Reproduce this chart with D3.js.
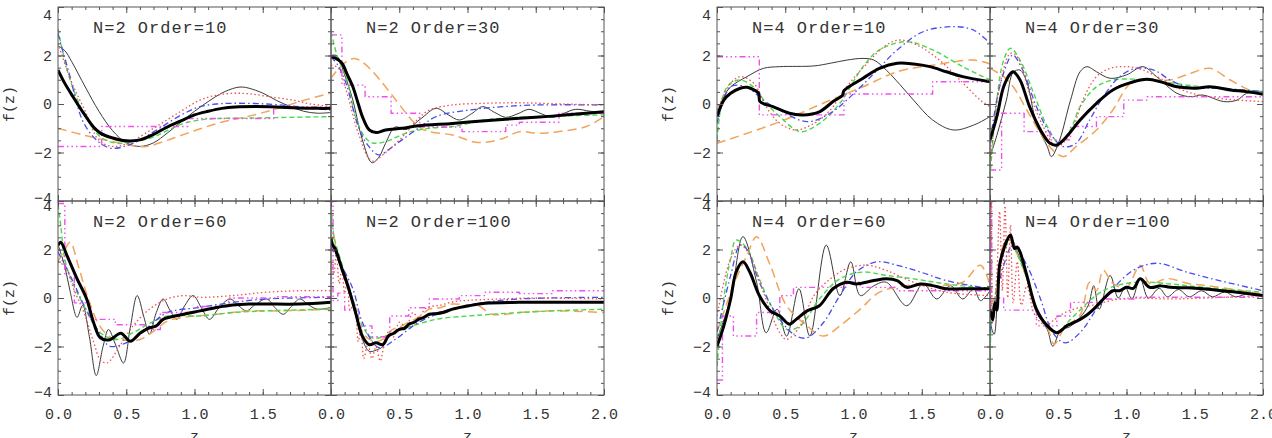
<!DOCTYPE html>
<html>
<head>
<meta charset="utf-8">
<script src="https://cdn.jsdelivr.net/npm/d3@7"></script>
<style>
body { margin: 0; background: #fff; }
svg text { font-family: "Liberation Mono", "DejaVu Sans Mono", monospace; fill: #333; }
</style>
</head>
<body>
<svg id="chart" width="1272" height="438"></svg>
<script>
// ---- N=2 Order=10
const n2o10Thick = [[0,1.4],[0.05,0.85],[0.11,0.3],[0.19,-0.4],[0.26,-0.95],[0.31,-1.2],[0.4,-1.4],[0.5,-1.52],[0.6,-1.48],[0.7,-1.25],[0.8,-0.95],[0.9,-0.7],[1.0,-0.45],[1.1,-0.3],[1.2,-0.18],[1.3,-0.12],[1.45,-0.1],[1.6,-0.12],[1.75,-0.16],[1.9,-0.18],[2.0,-0.18]];
const n2o10Thin = [[0,2.4],[0.05,2.2],[0.1,1.75],[0.2,0.7],[0.3,-0.3],[0.4,-1.1],[0.5,-1.6],[0.6,-1.75],[0.7,-1.6],[0.8,-1.2],[0.9,-0.75],[1.0,-0.3],[1.1,0.1],[1.2,0.45],[1.3,0.67],[1.35,0.7],[1.4,0.65],[1.5,0.45],[1.6,0.15],[1.7,-0.1],[1.8,-0.3],[1.9,-0.38],[2.0,-0.35]];
const n2o10Orange = [[0,-1.0],[0.2,-1.3],[0.4,-1.55],[0.55,-1.72],[0.65,-1.75],[0.8,-1.5],[1.0,-1.1],[1.2,-0.75],[1.4,-0.5],[1.6,-0.2],[1.8,0.15],[2.0,0.45]];
const n2o10Green = [[0,3.1],[0.06,1.54],[0.12,0.5],[0.19,-0.38],[0.31,-1.35],[0.43,-1.62],[0.55,-1.55],[0.67,-1.42],[0.8,-1.1],[0.92,-0.8],[1.05,-0.65],[1.16,-0.6],[1.4,-0.58],[1.7,-0.55],[2.0,-0.52]];
const n2o10Blue = [[0,2.9],[0.08,1.3],[0.19,-0.8],[0.31,-1.62],[0.4,-1.83],[0.55,-1.62],[0.7,-1.15],[0.8,-0.8],[0.92,-0.4],[1.04,-0.11],[1.16,0.0],[1.28,0.03],[1.53,0.0],[1.77,-0.11],[2.0,-0.25]];
const n2o10Red = [[0,2.5],[0.1,0.9],[0.2,-0.3],[0.3,-1.5],[0.4,-1.75],[0.5,-1.65],[0.7,-1.0],[0.9,-0.3],[1.04,0.16],[1.15,0.35],[1.28,0.44],[1.4,0.42],[1.55,0.3],[1.72,0.16],[1.85,0.0],[2.0,-0.1]];
const n2o10Magenta = [[0,-1.75],[0.32,-0.93],[0.95,-0.6],[1.58,-0.12],[2.0,-0.12]];

// ---- N=2 Order=30
const n2o30Thick = [[0,1.95],[0.03,1.9],[0.08,1.68],[0.12,1.2],[0.16,0.71],[0.2,0.0],[0.23,-0.52],[0.28,-1.07],[0.33,-1.18],[0.4,-1.07],[0.52,-1.0],[0.64,-0.9],[0.89,-0.8],[1.13,-0.69],[1.38,-0.59],[1.62,-0.5],[1.87,-0.38],[2.0,-0.32]];
const n2o30Thin = [[0,2.0],[0.04,2.0],[0.1,1.2],[0.16,0.16],[0.23,-1.48],[0.3,-2.42],[0.35,-2.2],[0.4,-1.62],[0.47,-0.95],[0.55,-1.05],[0.66,-0.6],[0.77,-0.18],[0.86,-0.45],[0.94,-0.66],[1.03,-0.4],[1.11,-0.11],[1.2,-0.35],[1.28,-0.55],[1.37,-0.4],[1.45,-0.22],[1.54,-0.4],[1.62,-0.55],[1.7,-0.4],[1.79,-0.22],[1.9,-0.3],[2.0,-0.36]];
const n2o30Orange = [[0,1.06],[0.17,1.88],[0.64,-0.93],[0.72,-1.14],[0.89,-1.28],[1.08,-1.59],[1.26,-1.42],[1.38,-1.14],[1.52,-1.21],[1.65,-1.15],[1.87,-0.93],[2.0,-0.52]];
const n2o30Green = [[0,2.98],[0.05,1.9],[0.11,1.13],[0.18,-0.52],[0.24,-1.3],[0.3,-1.6],[0.4,-1.55],[0.55,-1.2],[0.72,-1.0],[0.89,-0.93],[1.13,-0.66],[1.38,-0.55],[1.62,-0.5],[2.0,-0.45]];
const n2o30Blue = [[0,1.95],[0.05,1.6],[0.11,0.85],[0.2,-0.93],[0.27,-1.7],[0.35,-2.1],[0.43,-1.85],[0.52,-1.48],[0.64,-1.0],[0.77,-0.52],[1.01,-0.25],[1.26,-0.11],[1.5,-0.04],[2.0,-0.04]];
const n2o30Red = [[0,1.6],[0.05,1.5],[0.12,0.4],[0.2,-1.2],[0.3,-2.35],[0.4,-2.0],[0.55,-1.2],[0.64,-0.6],[0.72,-0.25],[0.89,-0.04],[1.13,0.03],[1.38,0.05],[1.7,0.0],[2.0,-0.04]];
const n2o30Magenta = [[0,2.85],[0.08,0.78],[0.25,0.3],[0.44,-0.38],[0.65,-0.95],[0.96,-1.14],[1.28,-0.87],[1.38,-0.75],[1.67,-0.38],[2.0,-0.38]];

// ---- N=2 Order=60
const n2o60Thick = [[0,2.18],[0.02,2.3],[0.065,1.76],[0.14,0.79],[0.21,-0.04],[0.26,-1.0],[0.31,-1.64],[0.38,-1.72],[0.46,-1.45],[0.53,-1.78],[0.6,-1.45],[0.66,-1.25],[0.72,-1.15],[0.77,-0.88],[0.92,-0.67],[1.04,-0.53],[1.16,-0.39],[1.28,-0.29],[1.4,-0.25],[1.53,-0.25],[1.77,-0.25],[2.0,-0.18]];
const n2o60Thin = [[0,2.2],[0.05,1.3],[0.09,0.24],[0.14,-0.8],[0.18,-0.3],[0.23,-1.6],[0.28,-3.2],[0.33,-2.0],[0.37,-1.3],[0.42,-1.9],[0.48,-2.68],[0.53,-1.2],[0.58,0.1],[0.63,-0.8],[0.67,-1.5],[0.72,-0.6],[0.77,-0.04],[0.82,-0.5],[0.87,-0.88],[0.93,-0.3],[0.99,0.1],[1.05,-0.4],[1.11,-0.88],[1.18,-0.4],[1.26,-0.04],[1.32,-0.3],[1.38,-0.53],[1.45,-0.25],[1.53,-0.04],[1.59,-0.4],[1.65,-0.67],[1.71,-0.35],[1.77,-0.04],[1.84,-0.3],[1.9,-0.46],[2.0,-0.39]];
const n2o60Orange = [[0,1.5],[0.05,2.0],[0.09,2.3],[0.15,1.3],[0.22,0.0],[0.3,-1.1],[0.38,-1.6],[0.5,-1.75],[0.6,-1.71],[0.72,-1.29],[0.8,-0.95],[0.92,-0.8],[1.16,-0.67],[1.41,-0.53],[1.65,-0.53],[2.0,-0.46]];
const n2o60Green = [[0,3.85],[0.02,3.0],[0.06,1.35],[0.19,-0.32],[0.31,-1.43],[0.43,-1.71],[0.55,-1.43],[0.67,-1.05],[0.8,-0.74],[1.04,-0.74],[1.28,-0.6],[1.53,-0.53],[2.0,-0.46]];
const n2o60Blue = [[0,1.9],[0.1,0.8],[0.19,-0.3],[0.31,-1.5],[0.38,-1.99],[0.55,-1.71],[0.67,-1.15],[0.8,-0.6],[1.04,-0.39],[1.28,-0.18],[1.53,-0.04],[2.0,0.03]];
const n2o60Red = [[0,1.5],[0.05,1.3],[0.12,0.3],[0.19,-0.6],[0.26,-1.8],[0.31,-2.54],[0.36,-2.68],[0.45,-2.0],[0.55,-1.15],[0.67,-0.46],[0.8,-0.04],[0.92,0.1],[1.04,0.03],[1.28,0.1],[1.53,0.24],[1.77,0.3],[2.0,0.3]];
const n2o60Magenta = [[0,3.9],[0.05,1.0],[0.12,-0.2],[0.23,-0.88],[0.42,-1.1],[0.65,-1.3],[0.75,-0.6],[1.0,-0.35],[1.25,0.0],[1.6,0.05],[2.0,0.05]];

// ---- N=2 Order=100
const n2o100Thick = [[0,2.46],[0.01,2.2],[0.03,2.04],[0.08,1.21],[0.13,0.38],[0.18,-0.6],[0.23,-1.57],[0.28,-1.92],[0.33,-1.85],[0.38,-1.92],[0.42,-1.57],[0.46,-1.45],[0.5,-1.29],[0.54,-1.25],[0.57,-1.08],[0.61,-1.0],[0.64,-0.88],[0.68,-0.8],[0.72,-0.67],[0.77,-0.65],[0.82,-0.6],[0.89,-0.46],[1.01,-0.32],[1.13,-0.22],[1.38,-0.18],[2.0,-0.18]];
const n2o100Thin = [[0,2.3],[0.03,1.9],[0.08,1.1],[0.13,0.3],[0.18,-0.7],[0.23,-1.7],[0.28,-2.2],[0.33,-2.15],[0.38,-2.0],[0.42,-1.6],[0.5,-1.3],[0.57,-1.1],[0.64,-0.9],[0.72,-0.7],[0.82,-0.55],[0.89,-0.45],[1.01,-0.3],[1.13,-0.2],[1.38,-0.15],[2.0,-0.15]];
const n2o100Orange = [[0,1.8],[0.02,2.6],[0.04,1.8],[0.08,1.3],[0.13,0.5],[0.18,-0.5],[0.23,-1.4],[0.28,-1.7],[0.33,-1.8],[0.38,-1.7],[0.45,-1.3],[0.5,-1.2],[0.57,-1.0],[0.64,-0.8],[0.72,-0.46],[0.8,-0.4],[0.89,-0.25],[1.0,-0.3],[1.08,-0.32],[1.18,-0.67],[1.38,-0.6],[1.62,-0.53],[2.0,-0.6]];
const n2o100Green = [[0,4.1],[0.02,2.6],[0.08,1.4],[0.16,-0.04],[0.23,-1.15],[0.3,-1.64],[0.4,-1.57],[0.52,-1.29],[0.77,-0.88],[1.01,-0.74],[1.18,-0.67],[1.38,-0.6],[1.62,-0.53],[2.0,-0.46]];
const n2o100Blue = [[0,2.1],[0.05,1.6],[0.16,0.38],[0.23,-1.0],[0.35,-2.05],[0.47,-1.71],[0.64,-1.01],[0.89,-0.46],[1.13,-0.18],[1.38,-0.04],[2.0,0.03]];
const n2o100Red = [[0,1.6],[0.02,1.0],[0.04,1.8],[0.06,0.6],[0.08,1.2],[0.1,0.2],[0.12,0.8],[0.14,-0.5],[0.17,-0.2],[0.2,-1.8],[0.22,-1.2],[0.24,-2.5],[0.27,-1.9],[0.3,-2.5],[0.33,-2.0],[0.36,-2.6],[0.39,-1.9],[0.42,-1.4],[0.46,-1.6],[0.5,-1.0],[0.55,-1.2],[0.6,-0.6],[0.64,-0.8],[0.7,-0.4],[0.8,-0.3],[0.9,-0.15],[1.0,-0.1],[1.2,-0.05],[1.5,0.0],[2.0,-0.04]];
const n2o100Magenta = [[0,4.1],[0.015,-0.1],[0.05,0.2],[0.1,-0.5],[0.2,-1.15],[0.3,-1.6],[0.43,-0.74],[0.57,-0.4],[0.72,-0.04],[0.94,0.1],[1.13,0.24],[1.38,0.18],[1.62,0.3],[2.0,0.3]];

// ---- N=4 Order=10
const n4o10Thick = [[0,-0.52],[0.05,0.16],[0.1,0.44],[0.17,0.65],[0.22,0.69],[0.27,0.58],[0.305,0.44],[0.315,0.1],[0.41,-0.11],[0.53,-0.38],[0.63,-0.45],[0.75,-0.32],[0.85,0.1],[0.92,0.37],[0.93,0.55],[1.07,1.06],[1.19,1.47],[1.32,1.68],[1.44,1.65],[1.56,1.54],[1.68,1.33],[1.8,1.13],[2.0,0.92]];
const n4o10Thin = [[0,-0.5],[0.05,0.3],[0.1,0.71],[0.22,1.13],[0.34,1.47],[0.46,1.54],[0.71,1.57],[0.83,1.68],[0.95,1.81],[1.07,1.88],[1.15,1.81],[1.24,1.4],[1.34,0.8],[1.44,0.16],[1.58,-0.66],[1.73,-1.07],[1.88,-0.87],[2.0,-0.52]];
const n4o10Orange = [[0,-1.62],[0.46,-0.73],[0.83,0.16],[1.07,0.71],[1.32,1.33],[1.58,1.6],[1.88,1.81],[2.0,1.65]];
const n4o10Green = [[0,-1.48],[0.05,0.44],[0.1,0.85],[0.17,0.99],[0.27,0.69],[0.36,0.03],[0.46,-0.52],[0.61,-1.14],[0.75,-0.8],[0.9,0.03],[1.07,1.54],[1.19,2.23],[1.39,2.57],[1.58,2.23],[1.8,1.54],[2.0,0.99]];
const n4o10Blue = [[0,-0.8],[0.1,0.71],[0.22,0.69],[0.34,0.16],[0.46,-0.25],[0.66,-0.73],[0.83,-0.38],[0.95,0.16],[1.15,1.26],[1.32,2.23],[1.51,2.98],[1.73,3.19],[1.88,3.05],[2.0,2.5]];
const n4o10Red = [[0,-0.25],[0.1,0.85],[0.17,1.13],[0.27,0.85],[0.36,-0.11],[0.46,-0.8],[0.58,-1.07],[0.71,-0.8],[0.83,-0.25],[0.95,0.71],[1.1,1.68],[1.24,2.43],[1.34,2.64],[1.49,2.36],[1.63,1.81],[1.78,0.99],[1.93,0.16],[2.0,-0.11]];
const n4o10Magenta = [[0,1.95],[0.31,-0.45],[0.93,0.41],[1.58,0.92],[2.0,0.92]];

// ---- N=4 Order=30
const n4o30Thick = [[0,-1.48],[0.05,-0.52],[0.1,0.71],[0.15,1.26],[0.17,1.33],[0.22,0.99],[0.29,-0.11],[0.37,-1.07],[0.44,-1.62],[0.49,-1.69],[0.56,-1.35],[0.66,-0.66],[0.78,0.03],[0.9,0.58],[1.03,0.88],[1.15,1.02],[1.27,0.88],[1.37,0.71],[1.51,0.65],[1.61,0.71],[1.76,0.58],[1.88,0.51],[2.0,0.4]];
const n4o30Thin = [[0,-2.17],[0.05,-1.3],[0.12,0.16],[0.17,1.3],[0.22,1.4],[0.27,0.9],[0.34,-0.8],[0.42,-1.76],[0.45,-2.17],[0.51,-1.48],[0.59,0.16],[0.66,1.33],[0.71,1.54],[0.78,1.33],[0.88,1.06],[1.0,1.2],[1.12,1.54],[1.22,1.13],[1.37,0.44],[1.47,0.3],[1.56,0.37],[1.71,0.1],[1.81,0.16],[1.88,0.44],[2.0,0.44]];
const n4o30Orange = [[0,1.47],[0.1,1.13],[0.17,0.71],[0.27,-0.25],[0.37,-1.21],[0.46,-1.9],[0.54,-2.17],[0.63,-1.76],[0.78,-1.07],[0.9,-0.25],[1.03,0.85],[1.17,0.99],[1.32,0.99],[1.44,1.2],[1.61,1.47],[1.76,0.99],[1.9,0.58],[2.0,0.51]];
const n4o30Green = [[0,-3.0],[0.05,0.16],[0.1,1.81],[0.15,2.3],[0.22,1.81],[0.32,0.44],[0.42,-0.93],[0.51,-1.62],[0.59,-1.07],[0.66,-0.11],[0.78,0.71],[0.9,0.99],[1.07,1.02],[1.27,0.92],[1.44,0.78],[1.68,0.65],[2.0,0.51]];
const n4o30Blue = [[0,-1.62],[0.07,0.71],[0.15,1.95],[0.17,2.02],[0.24,1.4],[0.34,-0.11],[0.44,-1.21],[0.54,-1.76],[0.63,-1.62],[0.73,-0.66],[0.83,0.3],[0.95,1.13],[1.07,1.47],[1.2,1.4],[1.32,0.99],[1.44,0.71],[1.68,0.65],[2.0,0.51]];
const n4o30Red = [[0,-2.58],[0.07,0.71],[0.15,2.09],[0.2,1.95],[0.29,0.44],[0.39,-0.93],[0.49,-1.76],[0.59,-1.21],[0.68,0.16],[0.78,1.13],[0.88,1.47],[1.0,1.54],[1.12,1.4],[1.27,0.99],[1.44,0.51],[1.68,0.23],[2.0,0.1]];
const n4o30Magenta = [[0,-2.72],[0.085,-0.38],[0.25,-1.14],[0.44,-1.48],[0.59,-0.93],[0.78,-0.52],[0.98,0.16],[1.15,0.3],[2.0,0.3]];

// ---- N=4 Order=60
const n4o60Thick = [[0,-1.99],[0.05,-1.15],[0.1,-0.04],[0.14,1.07],[0.19,1.49],[0.24,1.07],[0.31,0.1],[0.39,-0.53],[0.46,-0.74],[0.53,-1.08],[0.58,-0.88],[0.66,-0.53],[0.75,-0.32],[0.85,0.38],[0.95,0.65],[1.02,0.58],[1.15,0.72],[1.24,0.79],[1.32,0.72],[1.39,0.44],[1.49,0.58],[1.58,0.51],[1.68,0.38],[1.8,0.38],[2.0,0.38]];
const n4o60Thin = [[0,-1.7],[0.1,0.0],[0.19,2.53],[0.29,0.65],[0.36,-1.43],[0.44,-0.46],[0.51,-1.57],[0.6,0.38],[0.68,-1.57],[0.8,2.18],[0.9,0.1],[0.98,1.49],[1.05,0.1],[1.15,0.51],[1.24,0.65],[1.39,-0.32],[1.51,0.58],[1.61,-0.04],[1.71,0.51],[1.8,-0.04],[1.88,0.38],[1.93,-0.11],[2.0,0.3]];
const n4o60Orange = [[0,-1.4],[0.14,0.8],[0.22,1.76],[0.29,2.53],[0.39,1.35],[0.51,-0.32],[0.66,-1.15],[0.78,-1.57],[0.9,-1.15],[1.05,-0.46],[1.19,0.24],[1.39,0.51],[1.63,0.51],[1.8,0.65],[1.93,1.35],[2.0,0.51]];
const n4o60Green = [[0,-2.8],[0.05,0.0],[0.1,1.63],[0.14,2.39],[0.22,2.04],[0.31,0.79],[0.41,-0.46],[0.51,-1.29],[0.61,-1.15],[0.75,-0.04],[0.9,0.79],[1.07,1.07],[1.24,0.93],[1.44,0.79],[1.68,0.58],[2.0,0.38]];
const n4o60Blue = [[0,-1.4],[0.1,0.93],[0.17,2.18],[0.22,2.0],[0.31,0.65],[0.46,-0.88],[0.58,-1.57],[0.66,-1.64],[0.78,-1.01],[0.9,0.1],[1.02,1.07],[1.17,1.49],[1.32,1.35],[1.49,1.07],[1.68,0.72],[2.0,0.38]];
const n4o60Red = [[0,-0.74],[0.1,1.63],[0.17,2.18],[0.24,1.76],[0.34,0.24],[0.46,-1.43],[0.51,-1.71],[0.61,-1.15],[0.71,0.1],[0.83,0.79],[0.95,1.21],[1.1,1.35],[1.24,1.14],[1.44,0.65],[1.68,0.24],[2.0,0.1]];
const n4o60Magenta = [[0,-3.38],[0.04,-0.74],[0.12,-1.57],[0.29,-0.6],[0.46,0.1],[0.56,0.44],[0.95,0.65],[1.05,0.44],[1.32,0.3],[2.0,0.3]];

// ---- N=4 Order=100
const n4o100Thick = [[0,-0.46],[0.02,-0.9],[0.035,-0.2],[0.05,-0.5],[0.07,1.35],[0.1,2.0],[0.12,2.32],[0.15,2.6],[0.18,2.04],[0.2,2.1],[0.22,1.9],[0.27,0.93],[0.34,-0.46],[0.42,-1.15],[0.49,-1.43],[0.53,-1.3],[0.56,-1.15],[0.6,-1.05],[0.66,-0.88],[0.71,-0.7],[0.76,-0.46],[0.83,-0.04],[0.9,0.3],[0.95,0.3],[1.0,0.44],[1.05,0.4],[1.1,0.79],[1.17,0.44],[1.25,0.5],[1.32,0.44],[1.45,0.42],[1.56,0.38],[1.7,0.3],[1.81,0.24],[2.0,0.1]];
const n4o100Thin = [[0,-1.0],[0.03,-1.5],[0.06,0.5],[0.1,2.2],[0.15,2.5],[0.2,1.9],[0.27,0.8],[0.34,-0.6],[0.42,-1.3],[0.46,-1.99],[0.52,-1.3],[0.58,-1.2],[0.66,-0.8],[0.72,-0.3],[0.76,0.51],[0.8,-0.46],[0.88,0.93],[0.94,0.0],[0.99,0.44],[1.04,-0.04],[1.1,0.79],[1.16,0.0],[1.24,0.4],[1.3,0.05],[1.38,0.35],[1.46,0.05],[1.55,0.3],[1.63,0.05],[1.72,0.25],[1.8,0.05],[1.9,0.2],[2.0,0.1]];
const n4o100Orange = [[0,-0.3],[0.05,0.2],[0.1,2.2],[0.15,2.4],[0.2,1.8],[0.27,0.8],[0.34,-0.5],[0.42,-1.2],[0.47,-1.9],[0.55,-1.2],[0.66,-0.7],[0.73,0.65],[0.78,0.3],[0.83,1.14],[0.9,0.6],[1.0,0.44],[1.1,1.35],[1.17,0.6],[1.3,0.8],[1.45,0.6],[1.6,0.5],[2.0,0.17]];
const n4o100Green = [[0,-3.8],[0.01,-1.0],[0.05,0.5],[0.1,2.0],[0.15,2.3],[0.2,1.8],[0.27,0.8],[0.34,-0.5],[0.42,-1.2],[0.49,-1.43],[0.59,-0.88],[0.83,0.3],[1.07,0.65],[1.32,0.58],[1.56,0.44],[2.0,0.24]];
const n4o100Blue = [[0,-1.4],[0.1,1.35],[0.17,2.18],[0.27,1.35],[0.37,-0.04],[0.46,-1.43],[0.55,-1.85],[0.66,-1.43],[0.78,-0.46],[0.9,0.38],[1.03,1.07],[1.15,1.38],[1.25,1.42],[1.44,1.07],[1.68,0.72],[2.0,0.3]];
const n4o100Red = [[0,-0.5],[0.01,4.1],[0.02,-1.0],[0.05,1.0],[0.07,3.57],[0.09,0.3],[0.11,3.8],[0.13,0.0],[0.15,3.0],[0.17,-0.2],[0.2,1.5],[0.23,-0.3],[0.27,0.5],[0.32,-0.6],[0.37,-1.0],[0.42,-1.1],[0.47,-0.9],[0.55,-0.6],[0.65,-0.4],[0.75,-0.3],[0.83,-0.18],[0.95,-0.04],[1.07,0.0],[1.32,-0.04],[2.0,0.1]];
const n4o100Magenta = [[0,4.1],[0.012,-0.46],[0.05,0.0],[0.1,-0.5],[0.34,-1.15],[0.49,-0.74],[0.59,-0.18],[0.83,-0.04],[1.07,0.03],[2.0,0.03]];

// axis ticks
const xMajor = [0, 0.5, 1.0, 1.5, 2.0];
const xMinor = d3.range(0, 2.001, 0.1);
const yMajor = [-4, -2, 0, 2, 4];
const yMinor = d3.range(-4, 4.001, 0.5);

// layout
const PW = 273, PH = 194;
const GROUP_X = [58, 717];
const ROW_Y = [7, 201];

const panels = [
    {label: "N=2 Order=10",  group: 0, row: 0, col: 0, series: {thin: n2o10Thin, orange: n2o10Orange, green: n2o10Green, blue: n2o10Blue, red: n2o10Red, magenta: n2o10Magenta, thick: n2o10Thick}},
    {label: "N=2 Order=30",  group: 0, row: 0, col: 1, series: {thin: n2o30Thin, orange: n2o30Orange, green: n2o30Green, blue: n2o30Blue, red: n2o30Red, magenta: n2o30Magenta, thick: n2o30Thick}},
    {label: "N=2 Order=60",  group: 0, row: 1, col: 0, series: {thin: n2o60Thin, orange: n2o60Orange, green: n2o60Green, blue: n2o60Blue, red: n2o60Red, magenta: n2o60Magenta, thick: n2o60Thick}},
    {label: "N=2 Order=100", group: 0, row: 1, col: 1, series: {thin: n2o100Thin, orange: n2o100Orange, green: n2o100Green, blue: n2o100Blue, red: n2o100Red, magenta: n2o100Magenta, thick: n2o100Thick}},
    {label: "N=4 Order=10",  group: 1, row: 0, col: 0, series: {thin: n4o10Thin, orange: n4o10Orange, green: n4o10Green, blue: n4o10Blue, red: n4o10Red, magenta: n4o10Magenta, thick: n4o10Thick}},
    {label: "N=4 Order=30",  group: 1, row: 0, col: 1, series: {thin: n4o30Thin, orange: n4o30Orange, green: n4o30Green, blue: n4o30Blue, red: n4o30Red, magenta: n4o30Magenta, thick: n4o30Thick}},
    {label: "N=4 Order=60",  group: 1, row: 1, col: 0, series: {thin: n4o60Thin, orange: n4o60Orange, green: n4o60Green, blue: n4o60Blue, red: n4o60Red, magenta: n4o60Magenta, thick: n4o60Thick}},
    {label: "N=4 Order=100", group: 1, row: 1, col: 1, series: {thin: n4o100Thin, orange: n4o100Orange, green: n4o100Green, blue: n4o100Blue, red: n4o100Red, magenta: n4o100Magenta, thick: n4o100Thick}}
];

const STYLE = {
    thin:    {stroke: "#3a3a3a", width: 1,   dash: null,                    curve: d3.curveCatmullRom},
    orange:  {stroke: "#f3a35a", width: 1.5, dash: "9,5",                   curve: d3.curveCatmullRom},
    green:   {stroke: "#4ad84a", width: 1.4, dash: "5,3",                   curve: d3.curveCatmullRom},
    blue:    {stroke: "#4a4af0", width: 1.3, dash: "6,3,1.5,3",             curve: d3.curveCatmullRom},
    red:     {stroke: "#f05050", width: 1.3, dash: "1.5,2.5",               curve: d3.curveCatmullRom},
    magenta: {stroke: "#f050f0", width: 1.4, dash: "6,3,1.5,3,1.5,3,1.5,3", curve: d3.curveStepAfter},
    thick:   {stroke: "#000",    width: 3,   dash: null,                    curve: d3.curveCatmullRom}
};
const DRAW_ORDER = ["thin", "orange", "green", "blue", "red", "magenta", "thick"];

const svg = d3.select("#chart");
const defs = svg.append("defs");
const fmt = d3.format(".1f");

function drawAxis(axis, transform, big) {
    const g = svg.append("g")
        .attr("transform", transform)
        .attr("color", "#555")
        .call(axis);
    g.select(".domain").remove();
    g.attr("font-size", 15).attr("font-family", null);
    return g;
}

panels.forEach((p, i) => {
    const x0 = GROUP_X[p.group] + p.col * PW;
    const y0 = ROW_Y[p.row];
    const x = d3.scaleLinear().domain([0, 2]).range([x0, x0 + PW]);
    const y = d3.scaleLinear().domain([-4, 4]).range([y0 + PH, y0]);

    defs.append("clipPath").attr("id", "clip" + i)
        .append("rect")
        .attr("x", x0).attr("y", y0)
        .attr("width", PW).attr("height", PH);

    const lines = svg.append("g").attr("clip-path", `url(#clip${i})`);
    DRAW_ORDER.forEach(k => {
        const st = STYLE[k];
        const line = d3.line()
            .x(d => x(d[0]))
            .y(d => y(d[1]))
            .curve(st.curve);
        lines.append("path")
            .datum(p.series[k])
            .attr("d", line)
            .attr("fill", "none")
            .attr("stroke", st.stroke)
            .attr("stroke-width", st.width)
            .attr("stroke-dasharray", st.dash)
            .attr("stroke-linejoin", "round");
    });

    // frame
    svg.append("rect")
        .attr("x", x0).attr("y", y0)
        .attr("width", PW).attr("height", PH)
        .attr("fill", "none")
        .attr("stroke", "#555")
        .attr("stroke-width", 1);

    // minor ticks, all sides
    drawAxis(d3.axisBottom(x).tickValues(xMinor).tickSize(-3).tickFormat(""), `translate(0,${y0 + PH})`);
    drawAxis(d3.axisTop(x).tickValues(xMinor).tickSize(-3).tickFormat(""), `translate(0,${y0})`);
    drawAxis(d3.axisLeft(y).tickValues(yMinor).tickSize(-3).tickFormat(""), `translate(${x0},0)`);
    drawAxis(d3.axisRight(y).tickValues(yMinor).tickSize(-3).tickFormat(""), `translate(${x0 + PW},0)`);

    // major ticks
    const showX = p.row === 1;
    const showY = p.col === 0;
    drawAxis(d3.axisBottom(x).tickValues(xMajor).tickSize(-6).tickPadding(13)
        .tickFormat(d => !showX || (p.col === 0 && d === 2) ? "" : fmt(d)), `translate(0,${y0 + PH})`);
    drawAxis(d3.axisTop(x).tickValues(xMajor).tickSize(-6).tickFormat(""), `translate(0,${y0})`);
    const ly = drawAxis(d3.axisLeft(y).tickValues(yMajor).tickSize(-6).tickPadding(6)
        .tickFormat(d => showY ? (d < 0 ? "\u2212" + Math.abs(d) : d) : ""), `translate(${x0},0)`);
    ly.selectAll("text").attr("dy", d => d === 4 ? (p.row === 0 ? "0.85em" : "0.6em") : d === -4 ? "0.08em" : "0.32em");
    drawAxis(d3.axisRight(y).tickValues(yMajor).tickSize(-6).tickFormat(""), `translate(${x0 + PW},0)`);

    // panel label
    svg.append("text")
        .attr("x", x0 + 35)
        .attr("y", y0 + 26)
        .attr("font-size", 17)
        .attr("letter-spacing", 1)
        .text(p.label);

    // axis titles
    if (p.row === 1) {
        svg.append("text")
            .attr("x", x0 + PW / 2)
            .attr("y", 441)
            .attr("text-anchor", "middle")
            .attr("font-size", 15)
            .text("z");
    }
    if (p.col === 0) {
        svg.append("text")
            .attr("transform", `translate(${x0 - 48},${y0 + PH / 2}) rotate(-90)`)
            .attr("text-anchor", "middle")
            .attr("dominant-baseline", "central")
            .attr("font-size", 15)
            .text("f(z)");
    }
});
</script>
</body>
</html>
